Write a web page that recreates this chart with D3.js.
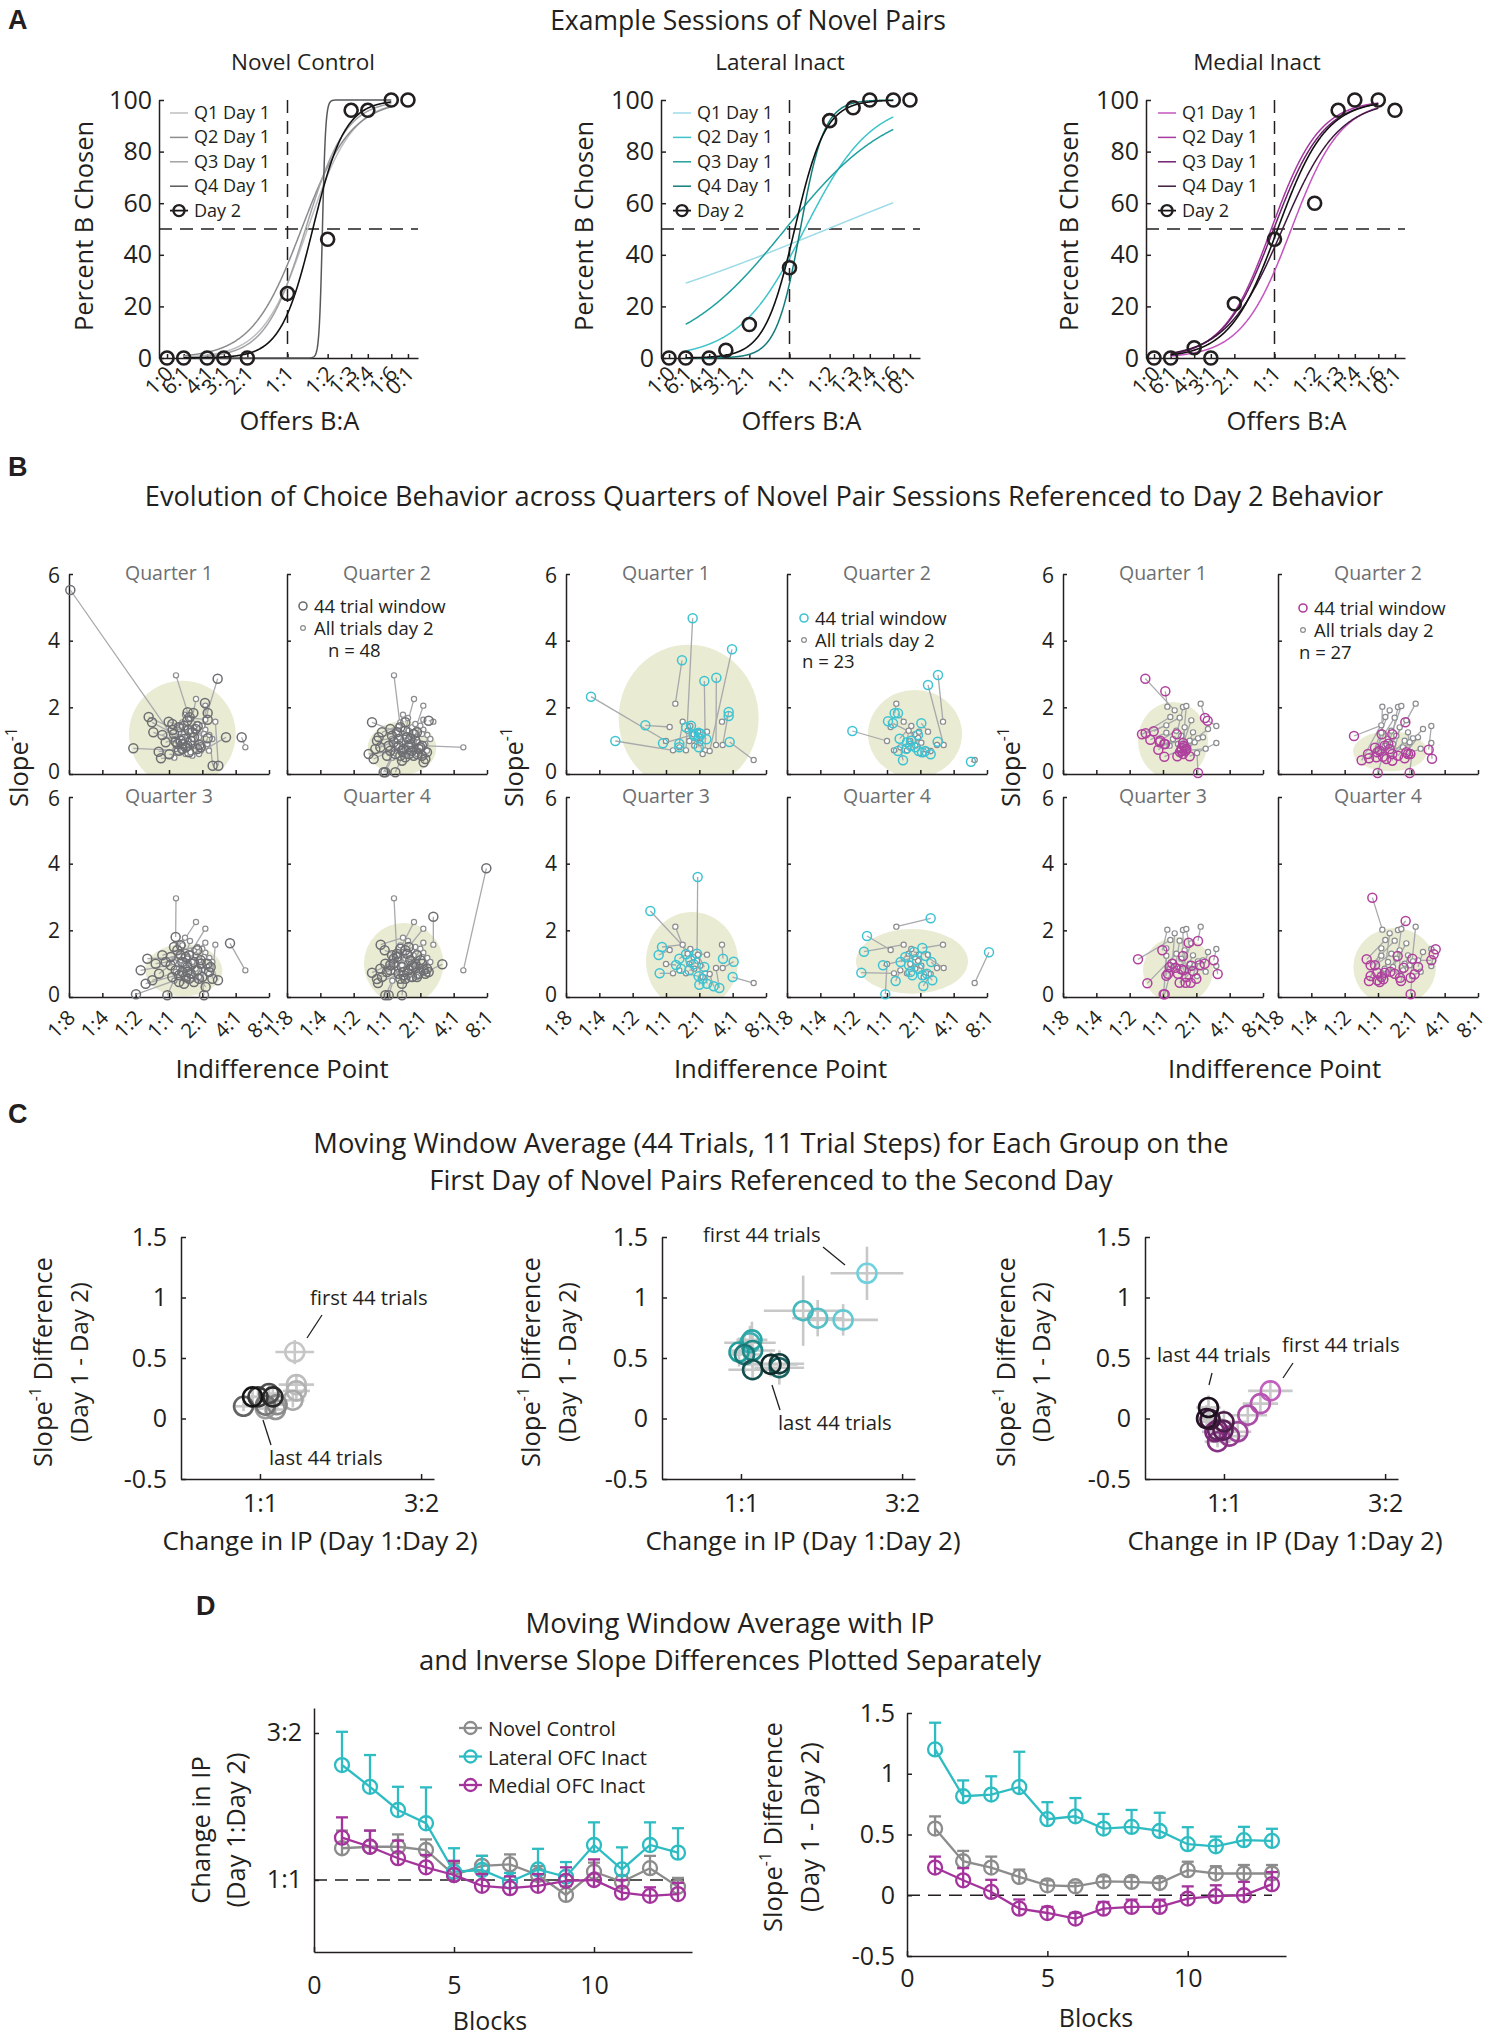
<!DOCTYPE html>
<html>
<head>
<meta charset="utf-8">
<script src="https://cdn.jsdelivr.net/npm/d3@7"></script>
<style>
  body { margin: 0; background: #fff; }
  svg { display: block; font-family: "Open Sans", sans-serif; }
</style>
</head>
<body>
<svg id="fig" width="1500" height="2039"></svg>
<script>
// ---------- panel A: example psychometric sessions ----------
const offerLabels = ["1:0", "6:1", "4:1", "3:1", "2:1", "1:1", "1:2", "1:3", "1:4", "1:6", "0:1"];
const offerLog2 = [-3, -2.585, -2, -1.585, -1, 0, 1, 1.585, 2, 2.585, 3];
const fitLabels = ["Q1 Day 1", "Q2 Day 1", "Q3 Day 1", "Q4 Day 1"];

const novelDay2 = [0, 0, 0, 0, 0, 25, 46, 96, 96, 100, 100];
const lateralDay2 = [0, 0, 0, 3, 13, 35, 92, 97, 100, 100, 100];
const medialDay2 = [0, 0, 4, 0, 21, 46, 60, 96, 100, 100, 96];

// logistic fits (indifference point in log2 units, width) for Q1..Q4 day 1 and day 2
const novelFitIP = [0.50, 0.35, 0.45, 0.87, 0.63];
const novelFitWidth = [0.56, 0.62, 0.50, 0.04, 0.40];
const lateralFitIP = [0.95, 0.38, -0.10, 0.27, 0.13];
const lateralFitWidth = [3.95, 0.83, 1.31, 0.30, 0.38];
const medialFitIP = [0.42, -0.08, -0.02, 0.20, 0.08];
const medialFitWidth = [0.62, 0.60, 0.62, 0.70, 0.60];

// ---------- panel B: quarters vs day 2 (log2 indifference point, slope^-1) ----------
const bTickLabels = ["1:8", "1:4", "1:2", "1:1", "2:1", "4:1", "8:1"];
const bTickLog2 = [-3, -2, -1, 0, 1, 2, 3];
const groupN = [48, 23, 27];

const novelAllDay2 = [[0.21,2.96],[0.81,2.25],[1.09,2.05],[1.09,1.63],[1.39,1.57],[2.29,0.80],[0.88,0.63],[0.16,0.49],[1.21,1.17],[0.48,1.78],[0.63,1.68],[1.09,1.33],[0.45,1.20],[0.70,1.05],[0.95,0.95],[0.30,0.85],[0.55,0.90],[0.80,1.25],[0.35,1.10],[0.60,0.75],[1.00,0.80],[0.25,1.00],[0.75,1.40],[0.50,0.60],[0.90,1.10],[0.40,0.70],[0.65,1.30],[1.15,0.90],[0.20,0.75],[0.85,1.50],[0.55,1.15],[0.70,0.55],[1.30,1.05],[0.35,1.45],[0.95,0.70],[0.60,1.00],[0.45,0.95],[0.80,0.85],[1.05,1.20],[0.30,1.25],[0.70,0.90],[0.50,1.35],[0.90,0.60],[0.15,1.05],[1.20,0.70],[0.65,0.65],[0.40,1.55],[1.00,1.45]];
const novelQ1 = [[0.56,1.85],[0.73,1.83],[1.16,1.83],[1.46,2.86],[1.48,0.25],[2.18,1.10],[1.71,1.10],[-0.24,0.47],[1.31,0.25],[0.55,1.60],[1.16,1.63],[1.08,2.13],[-0.61,1.71],[0.86,1.43],[0.91,0.87],[-2.96,5.52],[0.20,0.97],[0.59,1.32],[-0.51,1.55],[0.40,0.75],[1.16,1.07],[-0.47,1.25],[0.45,1.45],[0.01,0.59],[0.75,1.10],[-1.07,0.77],[-0.01,1.57],[0.95,0.80],[-0.31,0.67],[0.62,1.70],[0.11,1.32],[0.30,0.70],[0.80,1.35],[-0.20,1.17],[0.55,0.85],[0.35,1.00],[0.25,0.90],[0.50,0.80],[0.70,1.25],[0.15,1.20],[0.40,0.90],[0.30,1.40],[0.60,0.65],[-0.10,0.95],[0.85,0.75],[0.45,1.05],[0.10,1.50],[0.65,1.00]];
const novelQ2 = [[0.40,1.40],[0.55,1.30],[0.80,1.20],[0.90,1.25],[1.25,1.60],[1.05,0.85],[0.65,0.60],[-0.05,0.05],[1.15,0.45],[0.30,1.25],[0.55,1.55],[0.70,1.05],[-0.45,1.55],[0.45,0.70],[1.10,0.35],[-0.10,0.05],[0.25,0.60],[0.60,1.10],[-0.30,1.00],[0.45,0.40],[0.95,0.75],[-0.20,0.80],[0.35,1.05],[0.25,0.05],[0.70,0.90],[-0.55,0.60],[0.10,1.35],[1.20,0.65],[-0.40,0.45],[0.20,0.95],[0.05,0.85],[0.55,0.50],[1.00,0.80],[-0.15,1.25],[0.80,0.55],[0.50,0.75],[0.00,0.55],[0.65,0.80],[0.85,1.00],[-0.25,1.10],[0.35,0.85],[0.15,1.15],[0.90,0.60],[-0.35,0.75],[1.05,0.55],[0.40,0.55],[0.10,0.70],[0.75,0.70]];
const novelQ3 = [[0.20,1.80],[0.35,1.55],[0.60,1.25],[0.85,1.40],[1.30,0.55],[1.83,1.61],[1.10,0.30],[-0.99,0.08],[1.47,0.50],[0.15,1.50],[0.50,1.20],[0.95,1.10],[-0.65,1.15],[0.55,0.75],[1.05,0.05],[-0.05,0.05],[0.30,0.65],[0.75,1.05],[-0.40,1.00],[0.45,0.40],[1.00,0.60],[-0.85,0.80],[0.40,1.05],[0.30,0.45],[0.85,0.80],[-0.70,0.40],[0.05,1.20],[1.20,0.75],[-0.50,0.50],[0.25,1.40],[0.20,0.80],[0.60,0.55],[1.15,1.00],[-0.20,1.25],[0.90,0.55],[0.55,0.90],[0.10,0.60],[0.65,0.70],[0.95,1.00],[-0.10,1.05],[0.40,0.75],[0.35,1.25],[0.75,0.45],[-0.30,0.70],[1.25,0.90],[0.50,0.60],[0.05,0.95],[0.70,1.00]];
const novelQ4 = [[0.30,1.20],[0.40,1.45],[0.65,1.50],[0.90,1.25],[1.39,2.41],[2.98,3.86],[1.66,0.98],[-0.05,0.05],[1.10,0.80],[-0.19,1.57],[0.55,1.40],[0.85,1.00],[-0.07,1.40],[0.50,0.75],[0.95,0.70],[0.05,0.05],[0.45,0.05],[0.70,1.10],[-0.45,0.73],[0.45,0.40],[1.20,0.85],[-0.30,0.54],[0.30,1.30],[0.40,0.55],[0.80,0.90],[-0.27,0.42],[0.15,1.25],[1.25,0.75],[-0.15,0.60],[0.60,1.30],[0.10,0.80],[0.55,0.55],[1.05,1.00],[0.20,1.00],[0.90,0.60],[0.45,0.90],[0.00,0.75],[0.65,0.80],[1.00,1.10],[0.10,0.95],[0.35,0.70],[0.20,1.15],[0.75,0.60],[-0.20,0.85],[1.15,0.70],[0.50,0.65],[-0.05,1.00],[0.75,0.95]];

const lateralAllDay2 = [[0.28,2.11],[0.11,1.41],[0.50,1.57],[0.21,0.71],[0.60,0.71],[0.70,0.99],[1.18,0.71],[1.31,0.69],[1.50,0.87],[1.70,0.87],[1.68,1.57],[2.63,0.42],[0.93,1.09],[1.23,1.27],[0.83,1.19],[1.03,0.94],[0.00,0.99],[0.73,1.44],[0.96,1.27],[0.40,0.80],[1.10,0.60],[0.85,0.85],[0.65,1.30]];
const lateralQ1 = [[0.48,3.41],[-0.62,1.46],[0.40,0.91],[-1.52,0.99],[0.80,4.67],[0.75,1.45],[1.15,2.79],[1.98,3.74],[1.51,2.89],[1.88,1.86],[1.88,1.74],[1.91,0.96],[0.83,1.19],[0.98,1.24],[-0.09,0.92],[0.98,0.80],[-2.25,2.32],[0.60,1.40],[1.21,1.04],[0.40,0.80],[0.98,1.09],[0.85,1.15],[1.05,1.20]];
const lateralQ2 = [[0.23,1.82],[0.03,1.58],[0.33,1.82],[0.33,0.69],[0.58,0.76],[0.72,1.00],[1.15,0.69],[1.31,0.59],[1.52,0.97],[1.23,2.67],[1.53,2.97],[2.52,0.37],[0.93,1.17],[1.03,1.52],[0.18,1.52],[0.95,0.69],[-1.04,1.29],[0.38,1.06],[0.85,0.80],[0.48,0.41],[1.05,0.65],[0.70,0.85],[0.60,0.95]];
const lateralQ3 = [[0.60,1.28],[-0.22,1.26],[-0.12,1.50],[-0.19,0.71],[0.98,0.62],[0.73,1.10],[1.23,0.40],[1.43,0.32],[1.60,0.27],[2.03,1.06],[1.71,1.15],[2.00,0.60],[0.95,3.60],[0.93,1.30],[-0.47,2.58],[1.00,0.37],[0.30,0.96],[0.83,0.98],[1.15,0.90],[0.45,0.85],[1.10,0.55],[0.70,0.80],[0.40,1.15]];
const lateralQ4 = [[1.31,2.36],[-0.60,1.83],[-0.69,1.36],[-0.77,0.73],[0.76,0.65],[0.66,0.95],[1.36,0.50],[1.09,0.33],[1.33,1.05],[1.16,1.23],[1.06,1.47],[3.06,1.34],[0.96,0.85],[0.81,1.35],[-0.12,0.95],[1.06,0.65],[-0.05,0.08],[0.41,1.05],[0.90,1.10],[0.26,0.48],[1.20,0.70],[0.70,0.75],[0.55,1.20]];

const medialAllDay2 = [[0.13,2.02],[0.35,1.91],[0.60,2.01],[0.70,2.04],[1.13,2.11],[0.22,1.71],[0.50,1.69],[0.85,1.61],[0.10,1.46],[1.60,1.44],[0.10,1.24],[1.60,0.93],[1.28,0.76],[1.02,0.63],[0.80,1.00],[1.05,1.07],[0.40,1.30],[0.65,1.40],[0.30,1.05],[0.90,1.25],[0.55,1.15],[1.20,1.10],[0.75,0.80],[0.45,0.90],[1.35,1.35],[0.20,0.85],[0.95,0.95]];
const medialQ1 = [[0.07,2.48],[-0.53,2.86],[0.41,1.19],[0.60,0.93],[1.26,1.68],[-0.63,1.19],[-0.28,1.28],[0.56,0.78],[-0.52,1.22],[1.34,1.60],[-0.38,1.03],[0.80,0.53],[0.68,0.70],[1.05,0.03],[0.51,0.66],[0.43,0.53],[-0.08,1.00],[0.62,0.85],[-0.14,0.73],[0.70,0.75],[0.04,0.90],[0.06,0.90],[0.04,0.52],[0.55,0.70],[0.65,0.80],[-0.10,0.95],[0.60,0.60]];
const medialQ2 = [[0.11,1.19],[-0.09,0.79],[0.43,1.19],[0.31,0.91],[0.82,1.55],[-0.49,0.41],[-0.27,0.47],[0.15,0.52],[-0.72,1.14],[1.52,0.73],[-0.05,0.50],[1.62,0.46],[0.90,0.60],[0.95,0.03],[0.43,0.60],[0.80,0.47],[0.20,0.85],[0.43,0.40],[-0.01,0.03],[0.97,0.60],[0.05,0.70],[0.85,0.65],[0.35,0.75],[-0.02,0.65],[0.60,0.55],[-0.30,0.60],[0.25,0.45]];
const medialQ3 = [[-0.02,1.40],[0.28,1.00],[0.60,1.23],[0.77,1.63],[1.05,1.68],[-0.75,1.13],[0.37,0.88],[0.55,0.83],[0.10,0.64],[1.52,1.10],[0.02,0.08],[1.64,0.69],[0.85,0.94],[1.00,0.55],[0.90,0.78],[0.83,0.43],[-0.47,0.41],[0.68,0.43],[0.05,0.08],[0.50,0.43],[0.62,0.80],[1.10,0.95],[0.45,0.70],[0.20,0.90],[1.25,1.00],[0.15,0.70],[0.70,0.60]];
const medialQ4 = [[-0.17,2.98],[0.20,0.73],[0.83,2.28],[0.59,1.23],[1.03,1.15],[-0.34,1.13],[-0.22,0.95],[0.37,0.76],[-0.27,0.48],[1.73,1.43],[-0.22,0.63],[1.67,1.28],[1.10,0.68],[0.98,0.08],[0.77,0.88],[0.98,0.58],[-0.09,0.95],[0.66,0.58],[-0.02,0.50],[0.69,0.48],[0.16,0.53],[1.60,1.10],[-0.02,0.73],[0.10,0.60],[1.20,0.90],[0.05,0.45],[0.50,0.70]];

// shaded dispersion region per quarter: [centre IP, centre slope^-1, radius IP, radius slope^-1]
const novelSpread = [[0.40,1.20,1.60,1.60],[0.45,0.78,1.03,0.80],[0.44,0.80,1.16,0.78],[0.50,1.00,1.19,1.22]];
const lateralSpread = [[0.68,1.68,2.10,2.20],[0.84,1.20,1.41,1.32],[0.78,1.08,1.38,1.47],[0.75,1.07,1.68,0.97]];
const medialSpread = [[0.30,1.00,1.05,1.16],[0.36,0.68,1.11,0.60],[0.45,0.80,1.05,1.00],[0.50,0.90,1.24,1.17]];

// ---------- panels C & D: moving window, 13 blocks ----------
const blocks = [1, 2, 3, 4, 5, 6, 7, 8, 9, 10, 11, 12, 13];
const ipNovel = [1.108, 1.113, 1.113, 1.102, 1.017, 1.048, 1.053, 1.017, 0.949, 1.028, 0.994, 1.040, 0.977];
const ipNovelErr = [0.060, 0.055, 0.042, 0.036, 0.040, 0.034, 0.034, 0.030, 0.030, 0.031, 0.020, 0.042, 0.030];
const ipLateral = [1.391, 1.317, 1.238, 1.193, 1.028, 1.034, 0.994, 1.036, 1.011, 1.119, 1.036, 1.119, 1.093];
const ipLateralErr = [0.113, 0.108, 0.079, 0.122, 0.080, 0.048, 0.030, 0.070, 0.050, 0.077, 0.075, 0.077, 0.083];
const ipMedial = [1.144, 1.113, 1.074, 1.043, 1.017, 0.980, 0.972, 0.980, 0.997, 1.000, 0.957, 0.946, 0.952];
const ipMedialErr = [0.069, 0.055, 0.060, 0.042, 0.048, 0.040, 0.040, 0.040, 0.046, 0.070, 0.043, 0.029, 0.038];
const slopeNovel = [0.549, 0.280, 0.228, 0.151, 0.082, 0.074, 0.115, 0.110, 0.101, 0.206, 0.179, 0.179, 0.179];
const slopeNovelErr = [0.10, 0.085, 0.09, 0.06, 0.04, 0.03, 0.04, 0.04, 0.04, 0.07, 0.06, 0.07, 0.07];
const slopeLateral = [1.200, 0.815, 0.829, 0.891, 0.626, 0.650, 0.549, 0.562, 0.529, 0.420, 0.403, 0.453, 0.447];
const slopeLateralErr = [0.22, 0.13, 0.15, 0.29, 0.14, 0.15, 0.12, 0.14, 0.15, 0.14, 0.08, 0.11, 0.10];
const slopeMedial = [0.228, 0.123, 0.027, -0.110, -0.146, -0.192, -0.110, -0.096, -0.096, -0.027, -0.008, 0.000, 0.091];
const slopeMedialErr = [0.09, 0.10, 0.10, 0.075, 0.05, 0.046, 0.055, 0.06, 0.06, 0.10, 0.09, 0.11, 0.10];
const groupNames = ["Novel Control", "Lateral OFC Inact", "Medial OFC Inact"];

// ------------------------------------------------------------
const INK = "#231f20";
const BOLD = "'Liberation Sans', Arial, sans-serif";
const svg = d3.select("#fig");
svg.append("rect").attr("width", 1500).attr("height", 2039).attr("fill", "#fff");
const defs = svg.append("defs");

function text(x, y, s, size, o = {}) {
  const t = svg.append("text")
    .attr("x", x).attr("y", y)
    .attr("font-size", size)
    .attr("fill", o.fill || INK)
    .attr("text-anchor", o.anchor || "middle");
  if (o.weight) t.attr("font-weight", o.weight);
  if (o.family) t.attr("font-family", o.family);
  if (o.rotate) t.attr("transform", `rotate(${o.rotate},${x},${y})`);
  t.text(s);
  return t;
}

// "Slope^-1" style label, optionally followed by more text
function slopeText(x, y, size, tail, rotate) {
  const t = svg.append("text")
    .attr("x", x).attr("y", y)
    .attr("font-size", size).attr("fill", INK)
    .attr("text-anchor", "middle")
    .attr("transform", `rotate(${rotate},${x},${y})`);
  t.append("tspan").text("Slope");
  t.append("tspan").attr("font-size", size * 0.62).attr("dy", -size * 0.42).text("-1");
  if (tail) t.append("tspan").attr("dy", size * 0.42).text(tail);
  return t;
}

function styleAxis(g, size) {
  g.attr("font-size", null).attr("font-family", null);
  g.select(".domain").attr("stroke", INK).attr("stroke-width", 1.5);
  g.selectAll(".tick line").attr("stroke", INK).attr("stroke-width", 1.5);
  g.selectAll(".tick text").attr("fill", INK).attr("font-size", size);
}

function rotateTickLabels(g, dx, dy) {
  g.selectAll(".tick text")
    .attr("x", 0).attr("y", 0).attr("dy", null)
    .attr("text-anchor", "end")
    .attr("transform", `translate(${dx},${dy}) rotate(-45)`);
}

// ---------------- Panel A ----------------
text(8, 29, "A", 27, { anchor: "start", weight: "bold", family: BOLD });
text(748, 30, "Example Sessions of Novel Pairs", 26.5);

const panelA = [
  { title: "Novel Control", titleX: 303, ox: 159, ylabX: 93, day2: novelDay2, ip: novelFitIP, w: novelFitWidth,
    colors: ["#bcbec0", "#8a8c8e", "#a0a2a4", "#58595b", "#111"], legX: 170 },
  { title: "Lateral Inact", titleX: 780, ox: 661, ylabX: 593, day2: lateralDay2, ip: lateralFitIP, w: lateralFitWidth,
    colors: ["#9ddbe8", "#3ec4ca", "#20a09e", "#137c7a", "#111"], legX: 673 },
  { title: "Medial Inact", titleX: 1257, ox: 1146, ylabX: 1078, day2: medialDay2, ip: medialFitIP, w: medialFitWidth,
    colors: ["#c455bf", "#a53aa0", "#6e216c", "#3d1b3d", "#111"], legX: 1158 }
];

const logistic = (u, ip, w) => 100 / (1 + Math.exp(-(u - ip) / w));
const fitSpan = d3.range(offerLog2[1], offerLog2[9] + 0.001, 0.01);

panelA.forEach(p => {
  const x = d3.scaleLinear().domain([-3.2, 3.25]).range([p.ox, p.ox + 259]);
  const y = d3.scaleLinear().domain([0, 100]).range([358, 100]);

  text(p.titleX, 70, p.title, 22.5);
  text(p.ylabX, 226, "Percent B Chosen", 25.5, { rotate: -90 });
  text(x(0) + 12, 430, "Offers B:A", 25.5);

  // reference lines
  svg.append("line").attr("x1", x(0)).attr("x2", x(0)).attr("y1", y(100)).attr("y2", y(0))
    .attr("stroke", INK).attr("stroke-width", 1.5).attr("stroke-dasharray", "13,8");
  svg.append("line").attr("x1", x.range()[0]).attr("x2", x.range()[1]).attr("y1", y(50)).attr("y2", y(50))
    .attr("stroke", INK).attr("stroke-width", 1.5).attr("stroke-dasharray", "13,8");

  const gy = svg.append("g").attr("transform", `translate(${p.ox},0)`)
    .call(d3.axisLeft(y).tickValues([0, 20, 40, 60, 80, 100]).tickSizeInner(-5).tickSizeOuter(0).tickPadding(7));
  styleAxis(gy, 25);
  const gx = svg.append("g").attr("transform", "translate(0,358)")
    .call(d3.axisBottom(x).tickValues(offerLog2).tickFormat((d, i) => offerLabels[i]).tickSizeInner(-4).tickSizeOuter(0));
  styleAxis(gx, 21);
  rotateTickLabels(gx, 7, 17);

  // fitted curves, Q1..Q4 then day 2
  p.ip.forEach((ip, i) => {
    const line = d3.line().x(u => x(u)).y(u => y(logistic(u, ip, p.w[i])));
    svg.append("path").datum(fitSpan).attr("d", line)
      .attr("fill", "none").attr("stroke", p.colors[i]).attr("stroke-width", i === 4 ? 1.6 : 1.5);
  });

  svg.append("g").selectAll("circle").data(p.day2).join("circle")
    .attr("cx", (d, i) => x(offerLog2[i])).attr("cy", d => y(d)).attr("r", 6.5)
    .attr("fill", "none").attr("stroke", INK).attr("stroke-width", 2.6);

  // legend
  fitLabels.concat(["Day 2"]).forEach((s, i) => {
    const ly = 113 + i * 24.4;
    svg.append("line").attr("x1", p.legX).attr("x2", p.legX + 18).attr("y1", ly).attr("y2", ly)
      .attr("stroke", p.colors[i]).attr("stroke-width", i === 4 ? 1.8 : 1.5);
    if (i === 4) {
      svg.append("circle").attr("cx", p.legX + 9).attr("cy", ly).attr("r", 5.5)
        .attr("fill", "none").attr("stroke", INK).attr("stroke-width", 2.4);
    }
    text(p.legX + 24, ly + 6, s, 18, { anchor: "start" });
  });
});

// ---------------- Panel B ----------------
text(8, 476, "B", 27, { anchor: "start", weight: "bold", family: BOLD });
text(764, 506, "Evolution of Choice Behavior across Quarters of Novel Pair Sessions Referenced to Day 2 Behavior", 27.2);

const panelB = [
  { cols: [69, 287], day2: novelAllDay2, quarters: [novelQ1, novelQ2, novelQ3, novelQ4], spread: novelSpread,
    color: "#6d6e71", ylabX: 20, leg: { cx: 303, y: [606, 628], nx: 328, ny: 657 } },
  { cols: [566, 787], day2: lateralAllDay2, quarters: [lateralQ1, lateralQ2, lateralQ3, lateralQ4], spread: lateralSpread,
    color: "#3ec3d3", ylabX: 515, leg: { cx: 804, y: [618, 640], nx: 802, ny: 668 } },
  { cols: [1063, 1278], day2: medialAllDay2, quarters: [medialQ1, medialQ2, medialQ3, medialQ4], spread: medialSpread,
    color: "#b0409e", ylabX: 1012, leg: { cx: 1303, y: [608, 630], nx: 1299, ny: 659 } }
];
const bRows = [774, 997];

panelB.forEach((grp, gi) => {
  grp.quarters.forEach((pts, q) => {
    const x0 = grp.cols[q % 2];
    const yb = bRows[Math.floor(q / 2)];
    const x = d3.scaleLinear().domain([-3, 3]).range([x0, x0 + 200]);
    const y = d3.scaleLinear().domain([0, 6]).range([yb, yb - 200]);
    const clipId = `clip-${gi}-${q}`;
    defs.append("clipPath").attr("id", clipId).append("rect")
      .attr("x", x0).attr("y", yb - 200).attr("width", 200).attr("height", 200);

    const e = grp.spread[q];
    svg.append("ellipse")
      .attr("cx", x(e[0])).attr("cy", y(e[1]))
      .attr("rx", x(e[0] + e[2]) - x(e[0])).attr("ry", y(e[1]) - y(e[1] + e[3]))
      .attr("fill", "#e9ebd2").attr("clip-path", `url(#${clipId})`);

    text(x0 + 100, yb - 194, `Quarter ${q + 1}`, 19.5, { fill: "#6d6e71" });

    const gy = svg.append("g").attr("transform", `translate(${x0},0)`)
      .call(d3.axisLeft(y).tickValues([0, 2, 4, 6]).tickSizeInner(-4).tickSizeOuter(0).tickPadding(9)
        .tickFormat(q % 2 === 0 ? d3.format("d") : () => ""));
    styleAxis(gy, 21);
    // keep the stacked "0" / "6" labels of the two rows apart
    gy.selectAll(".tick text").attr("dy", d => (d === 0 ? "0.2em" : d === 6 ? "0.42em" : "0.32em"));
    const gx = svg.append("g").attr("transform", `translate(0,${yb})`)
      .call(d3.axisBottom(x).tickValues(bTickLog2).tickSizeInner(-4).tickSizeOuter(0)
        .tickFormat((d, i) => (q >= 2 ? bTickLabels[i] : "")));
    styleAxis(gx, 20.5);
    rotateTickLabels(gx, 7, 22);

    svg.append("g").selectAll("line").data(pts).join("line")
      .attr("x1", d => x(d[0])).attr("y1", d => y(d[1]))
      .attr("x2", (d, i) => x(grp.day2[i][0])).attr("y2", (d, i) => y(grp.day2[i][1]))
      .attr("stroke", "#a7a9ac").attr("stroke-width", 1.3);
    svg.append("g").selectAll("circle").data(grp.day2).join("circle")
      .attr("cx", d => x(d[0])).attr("cy", d => y(d[1])).attr("r", 2.6)
      .attr("fill", "#fff").attr("stroke", "#8a8c8e").attr("stroke-width", 1.2);
    svg.append("g").selectAll("circle").data(pts).join("circle")
      .attr("cx", d => x(d[0])).attr("cy", d => y(d[1])).attr("r", 4.5)
      .attr("fill", "none").attr("stroke", grp.color).attr("stroke-width", 1.5);
  });

  slopeText(grp.ylabX + 8, 767, 25.5, "", -90);
  text((grp.cols[0] + grp.cols[1] + 200) / 2 + 4, 1078, "Indifference Point", 25.7);

  // legend
  const L = grp.leg;
  svg.append("circle").attr("cx", L.cx).attr("cy", L.y[0]).attr("r", 4)
    .attr("fill", "none").attr("stroke", grp.color).attr("stroke-width", 1.6);
  svg.append("circle").attr("cx", L.cx).attr("cy", L.y[1]).attr("r", 2.4)
    .attr("fill", "none").attr("stroke", "#8a8c8e").attr("stroke-width", 1.2);
  text(L.cx + 11, L.y[0] + 7, "44 trial window", 18.5, { anchor: "start" });
  text(L.cx + 11, L.y[1] + 7, "All trials day 2", 18.5, { anchor: "start" });
  text(L.nx, L.ny, `n = ${groupN[gi]}`, 18.5, { anchor: "start" });
});

// ---------------- Panel C ----------------
text(8, 1123, "C", 27, { anchor: "start", weight: "bold", family: BOLD });
text(771, 1153, "Moving Window Average (44 Trials, 11 Trial Steps) for Each Group on the", 27.3);
text(771, 1190, "First Day of Novel Pairs Referenced to the Second Day", 27.3);

const panelC = [
  { ox: 181, ip: ipNovel, ipErr: ipNovelErr, sl: slopeNovel, slErr: slopeNovelErr,
    ramp: ["#c6c6c6", "#8a8a8a", "#141414"], ylab: [52, 88], xlabX: 320,
    notes: [
      { s: "first 44 trials", tx: 310, ty: 1305, l: [322, 1315, 307, 1338] },
      { s: "last 44 trials", tx: 269, ty: 1465, l: [263, 1420, 271, 1445] }
    ] },
  { ox: 662, ip: ipLateral, ipErr: ipLateralErr, sl: slopeLateral, slErr: slopeLateralErr,
    ramp: ["#6fd1dd", "#1f9e9c", "#0f2a2a"], ylab: [540, 576], xlabX: 803,
    notes: [
      { s: "first 44 trials", tx: 703, ty: 1242, l: [823, 1247, 845, 1265] },
      { s: "last 44 trials", tx: 778, ty: 1430, l: [772, 1385, 780, 1410] }
    ] },
  { ox: 1145, ip: ipMedial, ipErr: ipMedialErr, sl: slopeMedial, slErr: slopeMedialErr,
    ramp: ["#c35fbe", "#7b2a78", "#1a0f1a"], ylab: [1015, 1050], xlabX: 1285,
    notes: [
      { s: "last 44 trials", tx: 1157, ty: 1362, l: [1212, 1373, 1209, 1385] },
      { s: "first 44 trials", tx: 1282, ty: 1352, l: [1293, 1363, 1283, 1378] }
    ] }
];

panelC.forEach(p => {
  const x = d3.scaleLinear().domain([0.755, 1.54]).range([p.ox, p.ox + 253]);
  const y = d3.scaleLinear().domain([-0.5, 1.5]).range([1479, 1237]);
  const ramp = d3.piecewise(d3.interpolateRgb, p.ramp);

  const gy = svg.append("g").attr("transform", `translate(${p.ox},0)`)
    .call(d3.axisLeft(y).tickValues([-0.5, 0, 0.5, 1, 1.5]).tickFormat(d => String(d))
      .tickSizeInner(-5).tickSizeOuter(0).tickPadding(14));
  styleAxis(gy, 25);
  const gx = svg.append("g").attr("transform", "translate(0,1479)")
    .call(d3.axisBottom(x).tickValues([1, 1.5]).tickFormat(d => (d === 1 ? "1:1" : "3:2"))
      .tickSizeInner(-5).tickSizeOuter(0).tickPadding(15));
  styleAxis(gx, 25);

  slopeText(p.ylab[0], 1362, 25.5, "  Difference", -90);
  text(p.ylab[1], 1362, "(Day 1 - Day 2)", 24, { rotate: -90 });
  text(p.xlabX, 1550, "Change in IP (Day 1:Day 2)", 26);

  const eb = svg.append("g").attr("stroke", "#c8c8c8").attr("stroke-width", 2.6);
  blocks.forEach((b, i) => {
    eb.append("line").attr("x1", x(p.ip[i] - p.ipErr[i])).attr("x2", x(p.ip[i] + p.ipErr[i]))
      .attr("y1", y(p.sl[i])).attr("y2", y(p.sl[i]));
    eb.append("line").attr("x1", x(p.ip[i])).attr("x2", x(p.ip[i]))
      .attr("y1", y(p.sl[i] - p.slErr[i])).attr("y2", y(p.sl[i] + p.slErr[i]));
  });
  svg.append("g").selectAll("circle").data(blocks).join("circle")
    .attr("cx", (b, i) => x(p.ip[i])).attr("cy", (b, i) => y(p.sl[i])).attr("r", 9.5)
    .attr("fill", "none").attr("stroke-width", 2.6)
    .attr("stroke", (b, i) => ramp(i / (blocks.length - 1)));

  p.notes.forEach(n => {
    text(n.tx, n.ty, n.s, 20.3, { anchor: "start" });
    svg.append("line").attr("x1", n.l[0]).attr("y1", n.l[1]).attr("x2", n.l[2]).attr("y2", n.l[3])
      .attr("stroke", INK).attr("stroke-width", 1.3);
  });
});

// ---------------- Panel D ----------------
text(196, 1615, "D", 27, { anchor: "start", weight: "bold", family: BOLD });
text(730, 1633, "Moving Window Average with IP", 27.5);
text(730, 1670, "and Inverse Slope Differences Plotted Separately", 27.5);

const dColors = ["#8c8c8c", "#2ebcc3", "#a4349c"];

function drawBlocks(cfg) {
  const x = d3.scaleLinear().domain([0, 13.5]).range([cfg.ox, cfg.right]);
  const y = d3.scaleLinear().domain(cfg.yDomain).range([cfg.bottom, cfg.top]);

  svg.append("line").attr("x1", cfg.ox).attr("x2", cfg.dashEnd).attr("y1", y(cfg.ref)).attr("y2", y(cfg.ref))
    .attr("stroke", INK).attr("stroke-width", 1.5).attr("stroke-dasharray", "13,8");

  const gy = svg.append("g").attr("transform", `translate(${cfg.ox},0)`)
    .call(d3.axisLeft(y).tickValues(cfg.yTicks).tickFormat(cfg.yFormat)
      .tickSizeInner(-5).tickSizeOuter(0).tickPadding(12));
  styleAxis(gy, 25);
  const gx = svg.append("g").attr("transform", `translate(0,${cfg.bottom})`)
    .call(d3.axisBottom(x).tickValues([0, 5, 10]).tickFormat(d3.format("d"))
      .tickSizeInner(-5).tickSizeOuter(0).tickPadding(cfg.xPad));
  styleAxis(gx, 25);

  cfg.series.forEach((s, k) => {
    const c = dColors[k];
    const g = svg.append("g");
    g.append("path").datum(blocks)
      .attr("d", d3.line().x(b => x(b)).y((b, i) => y(s.v[i])))
      .attr("fill", "none").attr("stroke", c).attr("stroke-width", 2.3);
    blocks.forEach((b, i) => {
      const yt = y(s.v[i] + s.e[i]);
      g.append("line").attr("x1", x(b)).attr("x2", x(b)).attr("y1", y(s.v[i]) + 7).attr("y2", yt)
        .attr("stroke", c).attr("stroke-width", 2.3);
      g.append("line").attr("x1", x(b) - 6).attr("x2", x(b) + 6).attr("y1", yt).attr("y2", yt)
        .attr("stroke", c).attr("stroke-width", 2.3);
    });
    g.selectAll("circle").data(blocks).join("circle")
      .attr("cx", b => x(b)).attr("cy", (b, i) => y(s.v[i])).attr("r", 7)
      .attr("fill", "none").attr("stroke", c).attr("stroke-width", 2.3);
  });

  text(cfg.blocksX, cfg.blocksY, "Blocks", 25);
}

drawBlocks({
  ox: 314, right: 692, top: 1708, bottom: 1952, dashEnd: 692,
  yDomain: [0.755, 1.585], ref: 1, yTicks: [1, 1.5], yFormat: d => (d === 1 ? "1:1" : "3:2"),
  xPad: 24, blocksX: 490, blocksY: 2030,
  series: [
    { v: ipNovel, e: ipNovelErr },
    { v: ipLateral, e: ipLateralErr },
    { v: ipMedial, e: ipMedialErr }
  ]
});
text(210, 1830, "Change in IP", 25.5, { rotate: -90 });
text(245, 1830, "(Day 1:Day 2)", 25.5, { rotate: -90 });

drawBlocks({
  ox: 907, right: 1286, top: 1713, bottom: 1956, dashEnd: 1272,
  yDomain: [-0.5, 1.5], ref: 0, yTicks: [-0.5, 0, 0.5, 1, 1.5], yFormat: d => String(d),
  xPad: 13, blocksX: 1096, blocksY: 2027,
  series: [
    { v: slopeNovel, e: slopeNovelErr },
    { v: slopeLateral, e: slopeLateralErr },
    { v: slopeMedial, e: slopeMedialErr }
  ]
});
slopeText(782, 1827, 25.5, "  Difference", -90);
text(819, 1827, "(Day 1 - Day 2)", 25.5, { rotate: -90 });

// legend for D
groupNames.forEach((s, k) => {
  const ly = 1728 + k * 28.5;
  svg.append("line").attr("x1", 459).attr("x2", 482).attr("y1", ly).attr("y2", ly)
    .attr("stroke", dColors[k]).attr("stroke-width", 2.3);
  svg.append("circle").attr("cx", 470.5).attr("cy", ly).attr("r", 6)
    .attr("fill", "none").attr("stroke", dColors[k]).attr("stroke-width", 2.3);
  text(488, ly + 8, s, 20, { anchor: "start" });
});
</script>
</body>
</html>
